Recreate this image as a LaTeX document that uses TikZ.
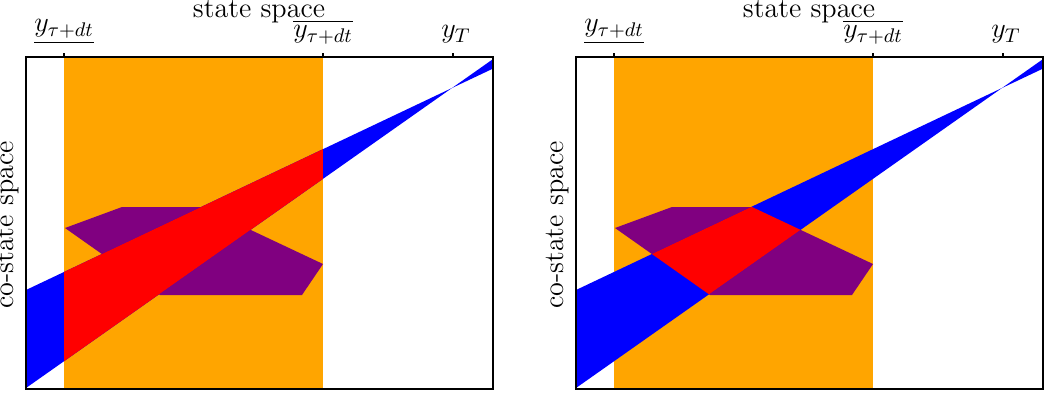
\RequirePackage{fix-cm}
\documentclass[tikz,border=0pt]{standalone}
\usepackage{amsmath}
\definecolor{morange}{HTML}{FFA500}
\definecolor{mpurple}{HTML}{800080}
\definecolor{mblue}{HTML}{0000FF}
\definecolor{mred}{HTML}{FF0000}
\begin{document}
\begin{tikzpicture}[x=0.5pt,y=-0.5pt,
  lab/.style={font=\fontsize{14.1}{17}\selectfont, inner sep=0pt, anchor=base},
  orangefill/.style={fill=morange},
  purplefill/.style={fill=mpurple},
  bandfill/.style={fill=mblue},
  redfill/.style={fill=mred},
  axisbox/.style={draw=black, line width=0.7pt},
  ticker/.style={draw=black, line width=0.6pt}]
\useasboundingbox (0,0) rectangle (1054,417);
\foreach \off/\mode in {0/0,550/1}{
\begin{scope}[shift={(\off,0)}]
  \begin{scope}
    \clip (26,57) rectangle (493,389);
    \fill[orangefill] (64,57) rectangle (323,389);
    \fill[purplefill] (65,228) -- (122,207) -- (202,207) -- (323,264) -- (302,295) -- (160,295) -- cycle;
    \fill[bandfill] (26,290) -- (452,88) -- (26,388) -- cycle (452,88) -- (493,68.6) -- (493,59.1) -- cycle;
    \begin{scope}
      \clip (26,290) -- (452,88) -- (26,388) -- cycle;
      \ifnum\mode=0
        \fill[redfill] (64,57) rectangle (323,389);
      \else
        \fill[redfill] (65,228) -- (122,207) -- (202,207) -- (323,264) -- (302,295) -- (160,295) -- cycle;
      \fi
    \end{scope}
  \end{scope}
  \draw[axisbox] (26,57) rectangle (493,389);
  \draw[ticker] (64,57) -- (64,53);
  \draw[ticker] (323,57) -- (323,53);
  \draw[ticker] (453,57) -- (453,53);
  \node[lab] (ulab\mode) at (64,32) {$\underline{y_{\tau+dt}}$};
  \node[lab] (olab\mode) at (323,38) {$\overline{y_{\tau+dt}}$};
  \node[lab] (yT\mode) at (456,38) {$y_T$};
  \node[lab] (title\mode) at (259,18) {state space};
  \node[lab, rotate=90] (ylab\mode) at (13,225) {co-state space};
\end{scope}
}
\end{tikzpicture}
\end{document}
